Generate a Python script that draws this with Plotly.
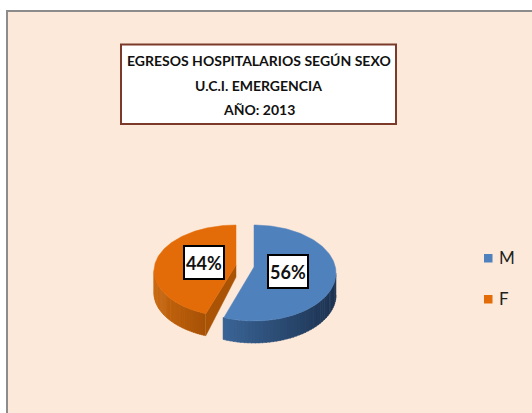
import numpy as np
import plotly.graph_objects as go

# ---- data ----
categories = ["M", "F"]
values = [56, 44]
labels = ["56%", "44%"]
title_lines = ["EGRESOS HOSPITALARIOS SEGÚN SEXO", "U.C.I. EMERGENCIA", "AÑO: 2013"]

# ---- style ----
FONT = "Lato"
BG = "#fde9d9"
top_colors = {"M": "#4f81bd", "F": "#e36c09"}
side_left = {"M": (58, 100, 150), "F": (200, 104, 16)}
side_right = {"M": (28, 50, 80), "F": (166, 80, 5)}
cut_color = "#ab5305"
geom = {  # centre x, centre y, apex y (perspective shift), rx, ry
    "M": (254, 273, 267, 82, 48),
    "F": (236, 271, 265, 82, 46),
}
DEPTH = 22
legend_y = {"M": 258, "F": 299}

fig = go.Figure()


def arc(cat, a0, a1, n=80):
    cx, cy, _, rx, ry = geom[cat]
    t = np.radians(np.linspace(a0, a1, n))
    return cx + rx * np.sin(t), cy - ry * np.cos(t)


def poly(x, y, color):
    fig.add_trace(go.Scatter(
        x=list(x), y=list(y), mode="lines", fill="toself", fillcolor=color,
        line=dict(color=color, width=0.5),
        hoverinfo="skip", showlegend=False))


fractions = np.array(values) / sum(values)
start = 0.0
spans = {}
for c, f in zip(categories, fractions):
    spans[c] = (start, start + 360 * f)
    start += 360 * f


def sides(cat, a0, a1):
    edges = np.linspace(a0, a1, 45)
    xs_all = arc(cat, a0, a1)[0]
    lo, hi = xs_all.min(), xs_all.max()
    for e0, e1 in zip(edges[:-1], edges[1:]):
        x, y = arc(cat, e0, e1 + 0.6, 6)
        k = (x.mean() - lo) / max(hi - lo, 1)
        rgb = [round(l + (r - l) * k) for l, r in zip(side_left[cat], side_right[cat])]
        col = f"rgb({rgb[0]},{rgb[1]},{rgb[2]})"
        poly(np.r_[x, x[::-1]], np.r_[y, y[::-1] + DEPTH], col)


def top(cat):
    a0, a1 = spans[cat]
    x, y = arc(cat, a0, a1, 160)
    cx, _, ay, _, _ = geom[cat]
    poly(np.r_[cx, x, cx], np.r_[ay, y, ay], top_colors[cat])


# orange: visible side wall from its first edge round to the far left
a0F, a1F = spans["F"]
sides("F", a0F, 270)
xc, yc = arc("F", a0F, a0F, 1)
cxF, _, ayF, _, _ = geom["F"]
poly([xc[0], cxF, cxF, xc[0]], [yc[0], ayF, ayF + 12, yc[0] + DEPTH], cut_color)
top("F")

# blue: visible side wall from the far right to its closing edge
a0M, a1M = spans["M"]
sides("M", 90, a1M)
top("M")

# page panel
shapes = [dict(type="rect", xref="x", yref="y", x0=7, y0=11, x1=540, y1=420,
               fillcolor=BG, line=dict(color="#8c8c8c", width=2), layer="below")]
# title box
shapes.append(dict(type="rect", xref="x", yref="y", x0=121, y0=44.5, x1=396, y1=124,
                   fillcolor="#ffffff", line=dict(color="#7b3a2a", width=2), layer="below"))

annotations = []
for line, y in zip(title_lines, [60, 85, 109]):
    annotations.append(dict(x=258.5, y=y, xref="x", yref="y", text=line, showarrow=False,
                            font=dict(family=FONT, size=14, color="#111111", weight=700),
                            xanchor="center", yanchor="middle"))

for lab, (x, y) in zip(labels, [(288, 271.5), (203.5, 262.5)]):
    annotations.append(dict(x=x, y=y, xref="x", yref="y", text=lab, showarrow=False,
                            width=38, height=31, bgcolor="#ffffff",
                            bordercolor="#000000", borderwidth=2, borderpad=0,
                            font=dict(family=FONT, size=18, color="#111111", weight=700),
                            xanchor="center", yanchor="middle"))

# legend keys and names
for c in categories:
    y = legend_y[c]
    shapes.append(dict(type="rect", xref="x", yref="y", x0=484, x1=492.5, y0=y - 4, y1=y + 4.5,
                       fillcolor=top_colors[c], line=dict(width=0), layer="above"))
    annotations.append(dict(x=497, y=y - 1, xref="x", yref="y", text=c, showarrow=False,
                            font=dict(family=FONT, size=17, color="#222222"),
                            xanchor="left", yanchor="middle"))

fig.update_layout(
    width=532, height=413, margin=dict(l=0, r=0, t=0, b=0),
    paper_bgcolor="#ffffff", plot_bgcolor="#ffffff",
    xaxis=dict(range=[0, 532], visible=False, fixedrange=True),
    yaxis=dict(range=[413, 0], visible=False, fixedrange=True),
    shapes=shapes, annotations=annotations, showlegend=False,
)

fig.write_html("out.html", config=dict(displayModeBar=False),
               post_script="document.body.style.margin='0';document.documentElement.style.overflow='hidden';")
